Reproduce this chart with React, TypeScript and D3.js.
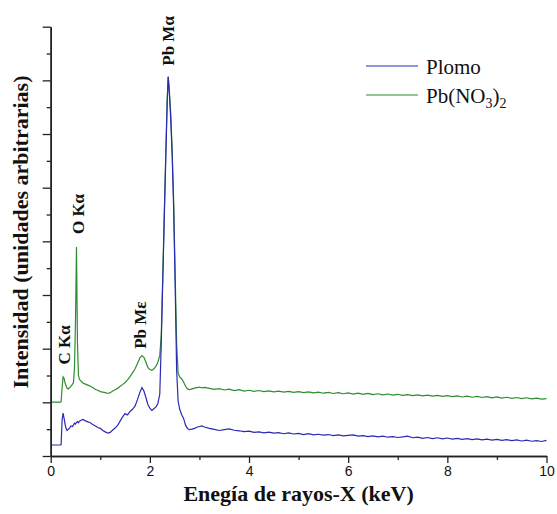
import React, { useRef, useEffect } from "react";
import * as d3 from "d3";

// energia (keV), malla comun para las dos series
const energia = [
  0.0, 0.1, 0.2, 0.21, 0.23, 0.25, 0.27, 0.29, 0.31, 0.33, 0.35, 0.38, 0.41, 0.44, 0.46, 0.48, 0.5, 0.52, 0.54, 0.56, 0.58, 0.61,
  0.65, 0.7, 0.75, 0.8, 0.85, 0.9, 0.95, 1.0, 1.05, 1.1, 1.15, 1.2, 1.25, 1.3, 1.35, 1.4, 1.45, 1.5, 1.55, 1.6, 1.65, 1.7, 1.75, 1.8,
  1.84, 1.88, 1.92, 1.96, 2.0, 2.04, 2.08, 2.12, 2.16, 2.2,
  2.23, 2.26, 2.29, 2.32, 2.35, 2.37, 2.39, 2.42, 2.45, 2.48, 2.51, 2.54, 2.57, 2.6,
  2.64, 2.68, 2.72, 2.76, 2.8, 2.85, 2.9, 2.95, 3.0, 3.05, 3.1,
  3.2, 3.3, 3.4, 3.5, 3.6, 3.7, 3.8, 3.9, 4.0,
  4.1, 4.2, 4.3, 4.4, 4.5, 4.6, 4.7, 4.8, 4.9, 5.0,
  5.1, 5.2, 5.3, 5.4, 5.5, 5.6, 5.7, 5.8, 5.9, 6.0,
  6.1, 6.2, 6.3, 6.4, 6.5, 6.6, 6.7, 6.8, 6.9, 7.0,
  7.1, 7.2, 7.3, 7.4, 7.5, 7.6, 7.7, 7.8, 7.9, 8.0,
  8.1, 8.2, 8.3, 8.4, 8.5, 8.6, 8.7, 8.8, 8.9, 9.0,
  9.1, 9.2, 9.3, 9.4, 9.5, 9.6, 9.7, 9.8, 9.9, 10.0,
];

const plomo = [
  0.41, 0.41, 0.41, 0.42, 1.35, 1.6, 1.4, 1.18, 1.02, 0.95, 0.99, 1.04, 1.12, 1.1, 1.16, 1.22, 1.19, 1.25, 1.28, 1.24, 1.3, 1.33,
  1.36, 1.31, 1.27, 1.24, 1.17, 1.12, 1.06, 1.03, 0.95, 0.9, 0.85, 0.88, 0.97, 1.04, 1.14, 1.3, 1.46, 1.58, 1.53, 1.66, 1.74, 1.86, 2.1, 2.38,
  2.55, 2.42, 2.18, 1.92, 1.78, 1.7, 1.76, 1.82, 1.95, 2.3,
  4.2, 6.5, 8.8, 11.0, 13.2, 14.14, 13.6, 12.6, 11.2, 9.2, 6.4, 3.2, 2.05, 1.75,
  1.55, 1.4, 1.15, 1.02, 0.98, 1.0, 1.03, 1.07, 1.1, 1.12, 1.08,
  1.03, 0.99, 0.95, 0.98, 1.01, 0.96, 0.94, 0.91, 0.93,
  0.88, 0.9, 0.86, 0.89, 0.85, 0.87, 0.83, 0.86, 0.82, 0.84,
  0.8, 0.83, 0.79, 0.81, 0.78, 0.8, 0.76, 0.79, 0.75, 0.77,
  0.79, 0.74, 0.76, 0.72, 0.75, 0.71, 0.74, 0.7, 0.72, 0.69,
  0.71, 0.74, 0.68, 0.7, 0.66, 0.69, 0.65, 0.68, 0.64, 0.67,
  0.63, 0.66, 0.62, 0.65, 0.61, 0.64, 0.6, 0.63, 0.59, 0.62,
  0.58, 0.61, 0.57, 0.6, 0.56, 0.59, 0.55, 0.57, 0.54, 0.58,
];

const nitrato = [
  2.01, 2.01, 2.01, 2.03, 2.55, 2.95, 2.9, 2.72, 2.62, 2.52, 2.5, 2.54, 2.6, 2.68, 2.75, 3.3, 5.0, 7.79, 4.2, 3.0, 2.85, 2.8,
  2.72, 2.68, 2.64, 2.6, 2.55, 2.48, 2.45, 2.4, 2.38, 2.36, 2.33, 2.36, 2.42, 2.47, 2.52, 2.6, 2.66, 2.74, 2.84, 2.96, 3.1, 3.24, 3.45, 3.66,
  3.74, 3.68, 3.5, 3.3, 3.22, 3.19, 3.25, 3.34, 3.48, 3.75,
  4.5, 6.7, 9.0, 11.2, 13.3, 14.12, 13.7, 12.8, 11.4, 9.5, 6.8, 4.2, 3.1, 2.95,
  2.88, 2.76, 2.6, 2.5, 2.47, 2.5, 2.53, 2.55, 2.57, 2.54, 2.56,
  2.52, 2.48, 2.51, 2.46, 2.49, 2.44, 2.47, 2.42, 2.45,
  2.41, 2.44, 2.4, 2.43, 2.39, 2.42, 2.38, 2.41, 2.37, 2.4,
  2.36, 2.39, 2.35, 2.38, 2.34, 2.37, 2.33, 2.36, 2.32, 2.35,
  2.31, 2.34, 2.3, 2.33, 2.29, 2.32, 2.28, 2.31, 2.27, 2.3,
  2.26, 2.29, 2.25, 2.28, 2.24, 2.27, 2.23, 2.26, 2.22, 2.25,
  2.21, 2.24, 2.2, 2.23, 2.19, 2.22, 2.18, 2.21, 2.17, 2.2,
  2.16, 2.19, 2.15, 2.18, 2.14, 2.17, 2.13, 2.16, 2.12, 2.14,
];

const xMajor = [0, 2, 4, 6, 8, 10];
const xMinor = [1, 3, 5, 7, 9];
const yMajor = [0, 2, 4, 6, 8, 10, 12, 14, 16];
const yMinor = [1, 3, 5, 7, 9, 11, 13, 15];

// etiquetas de los picos: energia de la linea base del texto y altura del centro
const picos = [
  { label: "C Kα", e: 0.39, y: 4.14 },
  { label: "O Kα", e: 0.67, y: 9.02 },
  { label: "Pb Mε", e: 1.92, y: 4.88 },
  { label: "Pb Mα", e: 2.49, y: 15.47 },
];

const AZUL = "#2a2ab4";
const VERDE = "#2f8c2f";
const serif = "'Liberation Serif', 'Times New Roman', serif";

const App = () => {
  const xAxisRef = useRef(null);
  const yAxisRef = useRef(null);

  const W = 557;
  const H = 514;
  const x = d3.scaleLinear().domain([0, 10]).range([50.7, 546.5]);
  const y = d3.scaleLinear().domain([0, 16]).range([456, 26.7]);

  useEffect(() => {
    const gx = d3.select(xAxisRef.current);
    gx.selectAll("*").remove();
    gx.append("g")
      .call(d3.axisBottom(x).tickValues(xMinor).tickSize(4).tickSizeOuter(0).tickFormat(() => ""));
    gx.append("g")
      .call(d3.axisBottom(x).tickValues(xMajor).tickSize(7).tickSizeOuter(0).tickPadding(3));
    gx.selectAll("path.domain").attr("stroke", "#222").attr("stroke-width", 1.5);
    gx.selectAll("line").attr("stroke", "#222").attr("stroke-width", 1.3);
    gx.selectAll("text")
      .attr("font-family", "'Liberation Sans', Arial, sans-serif")
      .attr("font-size", 14)
      .attr("fill", "#111");

    const gy = d3.select(yAxisRef.current);
    gy.selectAll("*").remove();
    gy.append("g")
      .call(d3.axisLeft(y).tickValues(yMinor).tickSize(4).tickSizeOuter(0).tickFormat(() => ""));
    gy.append("g")
      .call(d3.axisLeft(y).tickValues(yMajor).tickSize(8).tickSizeOuter(0).tickFormat(() => ""));
    gy.selectAll("path.domain").attr("stroke", "#222").attr("stroke-width", 1.5);
    gy.selectAll("line").attr("stroke", "#222").attr("stroke-width", 1.3);
  });

  const line = d3
    .line<number>()
    .x((d, i) => x(energia[i]))
    .y((d) => y(d));

  return (
    <svg
      width={W}
      height={H}
      style={{ position: "absolute", left: 0, top: 0, background: "#fff" }}
    >
      <path d={line(nitrato) || ""} fill="none" stroke={VERDE} strokeWidth={1.2} />
      <path d={line(plomo) || ""} fill="none" stroke={AZUL} strokeWidth={1.2} />

      <g ref={xAxisRef} transform={`translate(0,${y(0)})`} />
      <g ref={yAxisRef} transform={`translate(${x(0)},0)`} />

      {picos.map((p) => (
        <text
          key={p.label}
          transform={`translate(${x(p.e)},${y(p.y)}) rotate(-90)`}
          textAnchor="middle"
          fontFamily={serif}
          fontWeight="bold"
          fontSize={17}
          fill="#111"
        >
          {p.label}
        </text>
      ))}

      {/* leyenda */}
      <line x1={366} x2={418} y1={66} y2={66} stroke={AZUL} strokeWidth={1.1} />
      <text x={426} y={74} fontFamily={serif} fontSize={21} fill="#111">
        Plomo
      </text>
      <line x1={366} x2={418} y1={95} y2={95} stroke={VERDE} strokeWidth={1.1} />
      <text x={426} y={103} fontFamily={serif} fontSize={21} fill="#111">
        Pb(NO
        <tspan fontSize={14} dy={5}>3</tspan>
        <tspan dy={-5}>)</tspan>
        <tspan fontSize={14} dy={5}>2</tspan>
      </text>

      <text
        x={(50.7 + 546.5) / 2}
        y={501}
        textAnchor="middle"
        fontFamily={serif}
        fontWeight="bold"
        fontSize={22}
        fill="#111"
      >
        Enegía de rayos-X (keV)
      </text>
      <text
        transform={`translate(28,232) rotate(-90)`}
        textAnchor="middle"
        fontFamily={serif}
        fontWeight="bold"
        fontSize={22}
        fill="#111"
      >
        Intensidad (unidades arbitrarias)
      </text>
    </svg>
  );
};

export default App;
